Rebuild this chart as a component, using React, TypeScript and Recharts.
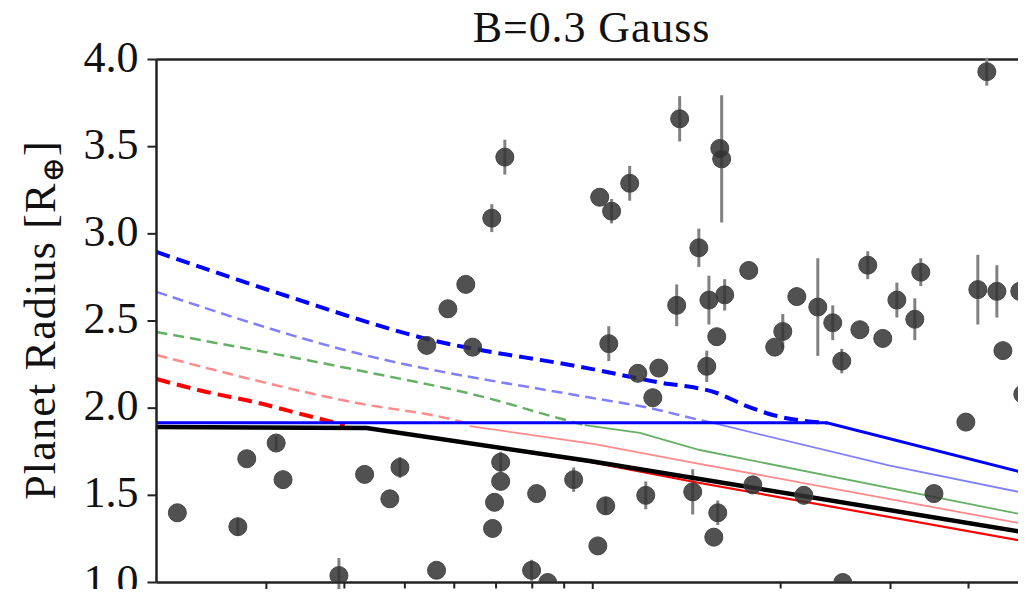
import React from "react";
import {
  ComposedChart,
  Line,
  Scatter,
  ErrorBar,
  XAxis,
  YAxis,
  ReferenceLine,
} from "recharts";

const serif = '"Liberation Serif", "DejaVu Serif", serif';
const spine = "#222";

// observed planets: x (log axis), radius, radius error
const planetX = [2.16, 2.7, 2.79, 3.11, 3.19, 3.92, 4.31, 4.73, 4.91, 5.42, 5.62, 5.86, 6.26, 6.42, 6.89, 7.23, 7.12, 7.12, 6.96, 6.91, 8.13, 7.98, 8.47, 9.32, 10.26, 10.72, 11.46, 10.61, 10.49, 10.19, 11.81, 12.76, 12.48, 12.16, 13.78, 14.79, 13.63, 15.35, 16.27, 15.98, 16.09, 15.8, 15.23, 14.46, 15.86, 15.63, 17.78, 18.05, 21.23, 20.16, 19.57, 22.94, 24.24, 25.06, 26.79, 27.58, 29.15, 30.71, 32.81, 33.54, 35.21, 39.61, 41.4, 42.79, 44.41, 45.41, 48.33, 48.87, 50.8, 21.79, 25.15];
const planetY = [1.4, 1.32, 1.71, 1.8, 1.59, 1.04, 1.62, 1.48, 1.66, 2.36, 1.07, 2.57, 2.71, 2.35, 3.09, 3.44, 1.69, 1.58, 1.46, 1.31, 1.51, 1.07, 1.0, 1.59, 3.21, 3.13, 3.29, 2.37, 1.44, 1.21, 2.2, 2.23, 2.06, 1.5, 3.66, 2.92, 2.59, 2.62, 2.65, 3.49, 3.43, 2.41, 2.24, 1.52, 1.4, 1.26, 2.79, 1.56, 2.64, 2.44, 2.35, 2.58, 2.49, 2.27, 2.45, 2.82, 2.4, 2.62, 2.51, 2.78, 1.51, 1.92, 2.68, 3.93, 2.67, 2.33, 2.67, 2.08, 3.32, 1.5, 1.0];
const planetErr = [0, 0.05, 0, 0.04, 0, 0.1, 0, 0, 0.06, 0, 0, 0, 0, 0, 0.08, 0.1, 0.06, 0, 0, 0, 0, 0.06, 0, 0.07, 0, 0.07, 0.1, 0.1, 0.05, 0, 0, 0, 0, 0.08, 0.13, 0.11, 0.12, 0.14, 0.09, 0, 0.365, 0, 0.09, 0.13, 0.07, 0, 0, 0, 0, 0.1, 0, 0.28, 0.1, 0.07, 0, 0.08, 0, 0.1, 0.12, 0.08, 0, 0, 0.2, 0.08, 0.15, 0, 0.1, 0, 0, 0, 0];

// model curves [x, radius]
const blueDashed = [[2, 2.896], [3.269, 2.638], [5.34, 2.403], [9.89, 2.227], [12.66, 2.15], [15.8, 2.087], [17.65, 2.012], [19.43, 1.961], [23.71, 1.915]];
const blueSolid = [[2, 1.916], [23.71, 1.916], [50, 1.622]];
const lightBlueDashed = [[2, 2.667], [4.185, 2.316], [9.89, 2.061], [12.34, 2.001], [14.84, 1.932], [15.57, 1.915]];
const lightBlueSolid = [[15.57, 1.915], [29.92, 1.67], [50, 1.508]];
const greenDashed = [[2, 2.437], [4.185, 2.219], [6.787, 2.058], [8.692, 1.949], [9.71, 1.903]];
const greenSolid = [[9.71, 1.903], [11.9, 1.858], [14.84, 1.76], [50, 1.382]];
const lightRedDashed = [[2, 2.305], [4.185, 2.03], [6.009, 1.932], [6.351, 1.909]];
const lightRedSolid = [[6.351, 1.897], [10.07, 1.794], [14.31, 1.691], [50, 1.33]];
const redDashed = [[2, 2.167], [2.406, 2.093], [2.872, 2.035], [3.455, 1.961], [4.005, 1.903]];
const redSolid = [[4.005, 1.892], [4.342, 1.886], [9.89, 1.691], [14.84, 1.571], [50, 1.232]];
const blackSolid = [[2, 1.892], [4.342, 1.886], [9.89, 1.697], [14.84, 1.594], [50, 1.284]];

const xTicks = [3, 4, 5, 6, 7, 8, 9, 10, 20, 30, 40];
const majorTicks = [3, 10, 30];
const yTicks = [1, 1.5, 2, 2.5, 3, 3.5, 4];

const planets = planetX.map((x, i) => ({ x, y: planetY[i], err: planetErr[i] }));
const toPts = (arr: number[][]) => arr.map(([x, y]) => ({ x, y }));

const curves = [
  { key: "bd", data: blueDashed, color: "#0000ff", w: 4, dash: "14 7" },
  { key: "lbd", data: lightBlueDashed, color: "#8080ff", w: 2.5, dash: "11 6" },
  { key: "gd", data: greenDashed, color: "#66b066", w: 2.5, dash: "11 6" },
  { key: "lrd", data: lightRedDashed, color: "#ff8a8a", w: 2.5, dash: "11 6" },
  { key: "rd", data: redDashed, color: "#ff0000", w: 4, dash: "14 7" },
  { key: "lbs", data: lightBlueSolid, color: "#8080ff", w: 1.8 },
  { key: "gs", data: greenSolid, color: "#66b066", w: 1.8 },
  { key: "lrs", data: lightRedSolid, color: "#ff8a8a", w: 1.8 },
  { key: "rs", data: redSolid, color: "#ff0000", w: 2.2 },
  { key: "ks", data: blackSolid, color: "#000000", w: 4.5 },
  { key: "bs", data: blueSolid, color: "#0000ff", w: 3 },
];

// x tick labels fall below the cropped frame, so only the marks are drawn
function XTick(props: any) {
  const { x, y, payload } = props;
  const major = majorTicks.includes(payload.value);
  return <line x1={x} x2={x} y1={y} y2={y + (major ? 11 : 6)} stroke={spine} strokeWidth={2} />;
}

function YTick(props: any) {
  const { x, y, payload } = props;
  return (
    <text x={x} y={y} dy={12} textAnchor="end" fontSize={44} fontFamily={serif} fill="#111">
      {payload.value.toFixed(1)}
    </text>
  );
}

function Dot(props: any) {
  const { cx, cy } = props;
  return <circle cx={cx} cy={cy} r={9} fill="#333" fillOpacity={0.85} stroke="#444" strokeWidth={1} />;
}

export default function App() {
  return (
    <div style={{ margin: -8, width: 1026, height: 597, overflow: "hidden", position: "relative", background: "#fff" }}>
      <ComposedChart width={1040} height={640} margin={{ top: 59.5, right: 11, left: 0, bottom: 0 }}>
        <XAxis
          type="number"
          dataKey="x"
          scale="log"
          domain={[2, 50]}
          allowDataOverflow
          ticks={xTicks}
          interval={0}
          tickLine={false}
          tickSize={0}
          tickMargin={0}
          tick={<XTick />}
          height={57.5}
          axisLine={{ stroke: spine, strokeWidth: 2.5 }}
        />
        <YAxis
          type="number"
          dataKey="y"
          domain={[1, 4]}
          allowDataOverflow
          ticks={yTicks}
          interval={0}
          width={156.5}
          tickSize={9}
          tickMargin={9}
          tick={<YTick />}
          tickLine={{ stroke: spine, strokeWidth: 2 }}
          axisLine={{ stroke: spine, strokeWidth: 2.5 }}
        />
        <ReferenceLine y={4} stroke={spine} strokeWidth={2.5} />
        <Scatter data={planets} dataKey="y" shape={<Dot />} isAnimationActive={false}>
          <ErrorBar dataKey="err" direction="y" width={0} stroke="#808080" strokeWidth={3} isAnimationActive={false} />
        </Scatter>
        {curves.map((c) => (
          <Line
            key={c.key}
            data={toPts(c.data)}
            dataKey="y"
            type={c.dash ? "monotoneX" : "linear"}
            stroke={c.color}
            strokeWidth={c.w}
            strokeDasharray={c.dash}
            dot={false}
            activeDot={false}
            isAnimationActive={false}
          />
        ))}
      </ComposedChart>
      <svg width={1026} height={597} style={{ position: "absolute", left: 0, top: 0, pointerEvents: "none" }}>
        <text x={591.5} y={42} textAnchor="middle" fontSize={44} fontFamily={serif} fill="#111" letterSpacing={0.9}>
          B=0.3 Gauss
        </text>
        <text
          transform="translate(55,320) rotate(-90)"
          textAnchor="middle"
          fontSize={44}
          fontFamily={serif}
          fill="#111"
          letterSpacing={1.2}
        >
          Planet Radius [R
          <tspan fontSize={30} dy={8}>⊕</tspan>
          <tspan dy={-8}>]</tspan>
        </text>
      </svg>
    </div>
  );
}
